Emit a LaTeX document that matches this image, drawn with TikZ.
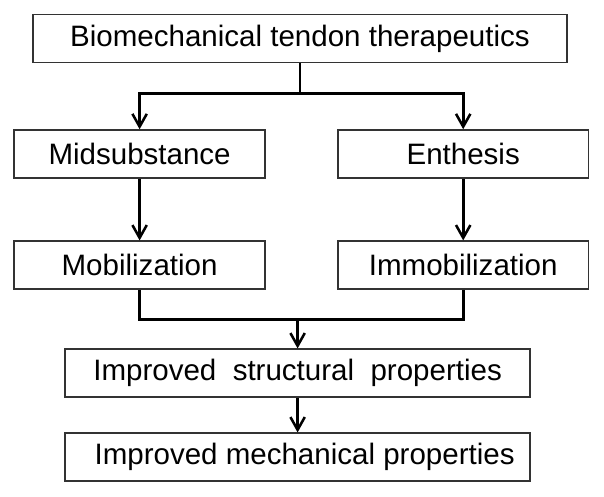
\documentclass[tikz,border=0pt]{standalone}
\usepackage{fontspec}
\setmainfont{Liberation Sans}
\usetikzlibrary{arrows.meta}

\begin{document}
\begin{tikzpicture}[
	box/.style={draw=black!80, line width=1.1pt, minimum height=1.2cm, font=\fontsize{21}{23}\selectfont},
	link/.style={line width=2pt},
	arr/.style={link, -{Straight Barb[length=0.32cm,width=0.36cm,line width=1.8pt]}}
]
	\useasboundingbox (0,0) rectangle (15.1,-12.4);

	\node[box, minimum width=13.35cm] (top) at (7.5,-0.96) {Biomechanical tendon therapeutics};
	\node[box, minimum width=6.27cm] (mid) at (3.49,-3.85) {Midsubstance};
	\node[box, minimum width=6.27cm] (ent) at (11.58,-3.85) {Enthesis};
	\node[box, minimum width=6.27cm] (mob) at (3.49,-6.63) {Mobilization};
	\node[box, minimum width=6.27cm] (imm) at (11.58,-6.63) {Immobilization};
	\node[box, minimum width=11.62cm] (struct) at (7.44,-9.33) {Improved\ \ structural\ \ properties};
	\node[box, minimum width=11.62cm] (mech) at (7.44,-11.43) {\hspace{0.35cm}Improved mechanical properties};

	\coordinate (split) at (7.5,-2.33);
	\coordinate (merge) at (7.44,-7.98);

	\draw[link] (top.south) -- (split);
	\draw[arr] (split) -| (mid.north);
	\draw[arr] (split) -| (ent.north);
	\draw[arr] (mid) -- (mob);
	\draw[arr] (ent) -- (imm);
	\draw[link] (mob.south) |- (merge);
	\draw[link] (imm.south) |- (merge);
	\draw[arr] (merge) -- (struct.north);
	\draw[arr] (struct) -- (mech);
\end{tikzpicture}
\end{document}
